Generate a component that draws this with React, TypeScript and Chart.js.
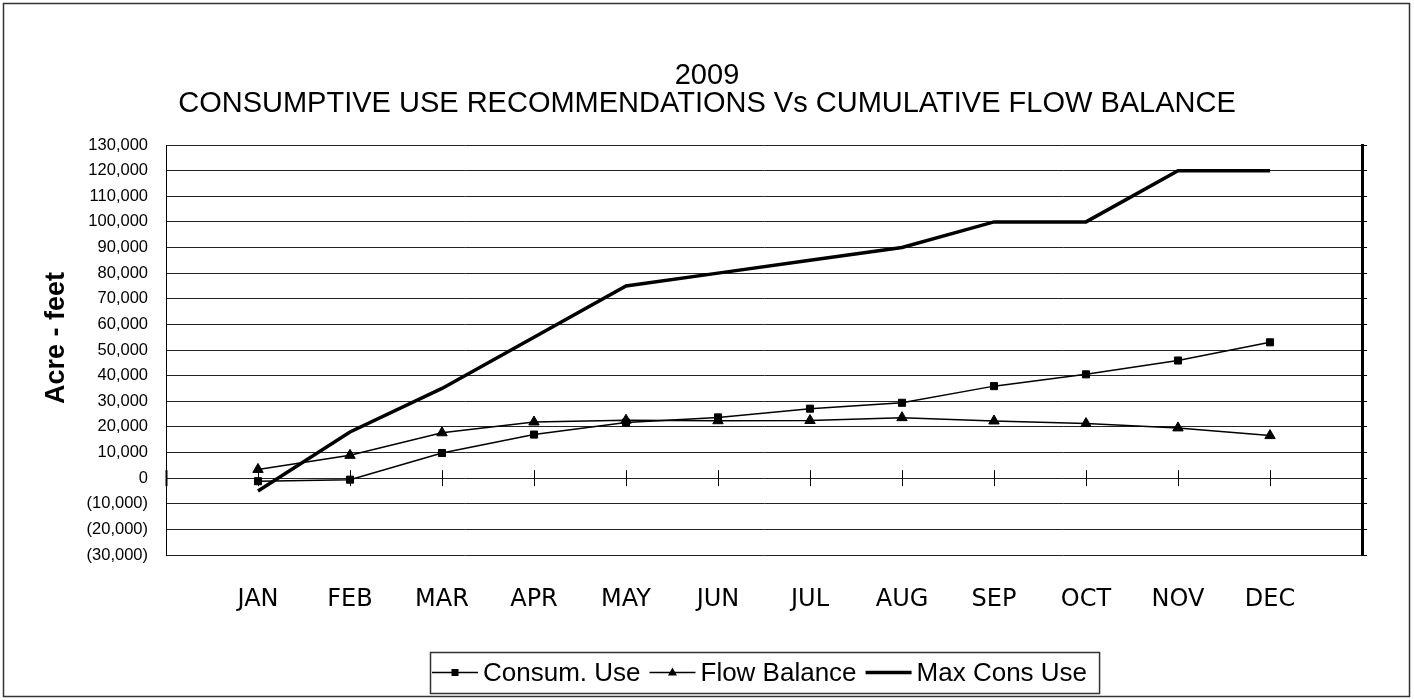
import React, { useEffect, useRef } from 'react';
import { Chart, registerables } from 'chart.js';

Chart.register(...registerables);

const MONTHS = ['JAN', 'FEB', 'MAR', 'APR', 'MAY', 'JUN', 'JUL', 'AUG', 'SEP', 'OCT', 'NOV', 'DEC'];
const CONSUM_USE = [-1200, -600, 9800, 17000, 21700, 23700, 27100, 29400, 35900, 40500, 45900, 53000];
const FLOW_BALANCE = [3400, 8900, 17700, 21900, 22600, 22400, 22500, 23600, 22300, 21300, 19600, 16600];
const MAX_CONS_USE = [-5000, 18000, 35000, 55000, 75000, 80000, 85000, 90000, 100000, 100000, 120000, 120000];
const SERIES_LABELS = ['Consum. Use', 'Flow Balance', 'Max Cons Use'];
const TITLE_LINES = ['2009', 'CONSUMPTIVE USE RECOMMENDATIONS Vs CUMULATIVE FLOW BALANCE'];
const Y_TITLE = 'Acre - feet';
const Y_MIN = -30000;
const Y_MAX = 130000;
const Y_STEP = 10000;

const SANS = '"Liberation Sans", Arial, Helvetica, sans-serif';
const COMIC = '"Comic Sans MS", "DejaVu Sans", sans-serif';

const fmtNum = (v: number) => {
  const s = Math.abs(v).toLocaleString('en-US');
  return v < 0 ? `(${s})` : s;
};

const decorPlugin = {
  id: 'decor',
  beforeDatasetsDraw(chart: any) {
    const { ctx, scales } = chart;
    const xs = scales.x;
    const ys = scales.y;
    const y0 = ys.getPixelForValue(0);
    ctx.save();
    ctx.strokeStyle = '#000';
    for (let v = 0; v <= MONTHS.length; v++) {
      const x = Math.round(xs.getPixelForValue(v)) + 0.5;
      ctx.lineWidth = v === 0 ? 2 : 1;
      ctx.beginPath();
      ctx.moveTo(x, y0 - 8);
      ctx.lineTo(x, y0 + 8);
      ctx.stroke();
    }
    ctx.restore();
  },
  afterDraw(chart: any) {
    const { ctx, width, height } = chart;
    ctx.save();
    // outer frame
    ctx.strokeStyle = '#333';
    ctx.lineWidth = 1.5;
    ctx.strokeRect(3.5, 3.5, width - 8, height - 7);

    // y axis title
    ctx.save();
    ctx.translate(57, 338);
    ctx.rotate(-Math.PI / 2);
    ctx.font = `bold 27px ${SANS}`;
    ctx.fillStyle = '#000';
    ctx.textAlign = 'center';
    ctx.textBaseline = 'middle';
    ctx.fillText(Y_TITLE, 0, 0);
    ctx.restore();

    // legend
    ctx.font = `26px ${SANS}`;
    ctx.textAlign = 'left';
    ctx.textBaseline = 'middle';
    const datasets = chart.data.datasets;
    const boxLeft = 430;
    const boxTop = 652;
    const boxH = 41;
    const cy = boxTop + boxH / 2;
    const lineLen = 46;
    let x = boxLeft + 2;
    datasets.forEach((ds: any, i: number) => {
      ctx.strokeStyle = '#000';
      ctx.fillStyle = '#000';
      ctx.lineWidth = ds.borderWidth;
      ctx.beginPath();
      ctx.moveTo(x, cy);
      ctx.lineTo(x + lineLen, cy);
      ctx.stroke();
      const mx = x + lineLen / 2;
      if (ds.pointStyle === 'rect' && ds.pointRadius > 0) {
        ctx.fillRect(mx - 3.5, cy - 3.5, 7, 7);
      } else if (ds.pointStyle === 'triangle' && ds.pointRadius > 0) {
        ctx.beginPath();
        ctx.moveTo(mx, cy - 5);
        ctx.lineTo(mx + 4.5, cy + 3);
        ctx.lineTo(mx - 4.5, cy + 3);
        ctx.closePath();
        ctx.fill();
      }
      x += lineLen + 5;
      ctx.fillText(ds.label, x, cy + 1);
      x += ctx.measureText(ds.label).width + (i < datasets.length - 1 ? 9 : 12);
    });
    ctx.strokeStyle = '#333';
    ctx.lineWidth = 1.5;
    ctx.strokeRect(boxLeft + 0.5, boxTop + 0.5, x - boxLeft, boxH);
    ctx.restore();
  },
};

export default function App() {
  const canvasRef = useRef<HTMLCanvasElement | null>(null);

  useEffect(() => {
    const canvas = canvasRef.current;
    if (!canvas) return;
    const toPts = (arr: number[]) => arr.map((y, i) => ({ x: i + 1, y }));
    const chart = new Chart(canvas, {
      type: 'line',
      data: {
        datasets: [
          {
            label: SERIES_LABELS[0],
            data: toPts(CONSUM_USE),
            borderColor: '#000',
            backgroundColor: '#000',
            borderWidth: 1.5,
            pointStyle: 'rect',
            pointRadius: 5,
            pointBorderWidth: 1,
            tension: 0,
            yAxisID: 'y',
          },
          {
            label: SERIES_LABELS[1],
            data: toPts(FLOW_BALANCE),
            borderColor: '#000',
            backgroundColor: '#000',
            borderWidth: 1.5,
            pointStyle: 'triangle',
            pointRadius: 6,
            pointBorderWidth: 1,
            tension: 0,
            yAxisID: 'y',
          },
          {
            label: SERIES_LABELS[2],
            data: toPts(MAX_CONS_USE),
            borderColor: '#000',
            backgroundColor: '#000',
            borderWidth: 3.5,
            pointStyle: 'line',
            pointRadius: 0,
            tension: 0,
            yAxisID: 'y',
          },
        ],
      },
      options: {
        responsive: false,
        animation: false,
        devicePixelRatio: 1,
        layout: { padding: { left: 0, right: 0, top: 0, bottom: 85 } },
        plugins: {
          legend: { display: false },
          tooltip: { enabled: false },
          title: {
            display: true,
            text: TITLE_LINES,
            color: '#000',
            font: { family: SANS, size: 29, weight: 'normal', lineHeight: 28 / 29 },
            padding: { top: 62, bottom: 27 },
          },
        },
        scales: {
          x: {
            type: 'linear',
            min: 0,
            max: MONTHS.length + 1,
            grid: { display: false, drawTicks: false },
            border: { display: false },
            ticks: {
              stepSize: 1,
              autoSkip: false,
              maxRotation: 0,
              padding: 30,
              color: '#000',
              font: { family: COMIC, size: 24 },
              callback: (v: any) => {
                const n = Number(v);
                return Number.isInteger(n) && n >= 1 && n <= MONTHS.length ? MONTHS[n - 1] : '';
              },
            },
            afterFit: (s: any) => {
              s.height = 60;
            },
          },
          y: {
            position: 'left',
            min: Y_MIN,
            max: Y_MAX,
            grid: { color: '#222', lineWidth: 1, drawTicks: false },
            border: { display: true, color: '#000', width: 1 },
            ticks: {
              stepSize: Y_STEP,
              padding: 18,
              color: '#000',
              font: { family: SANS, size: 16.5 },
              callback: (v: any) => fmtNum(Number(v)),
            },
            afterFit: (s: any) => {
              s.width = 166;
            },
          },
          y1: {
            position: 'right',
            min: Y_MIN,
            max: Y_MAX,
            grid: { drawOnChartArea: false, drawTicks: true, tickLength: 5, color: '#000' },
            border: { display: true, color: '#000', width: 3 },
            ticks: { display: false, stepSize: Y_STEP },
            afterFit: (s: any) => {
              s.width = 52;
            },
          },
        },
      },
      plugins: [decorPlugin],
    } as any);
    return () => chart.destroy();
  }, []);

  return (
    <div style={{ position: 'absolute', left: 0, top: 0, width: 1414, height: 700, background: '#fff' }}>
      <canvas ref={canvasRef} width={1414} height={700} style={{ display: 'block' }} />
    </div>
  );
}
